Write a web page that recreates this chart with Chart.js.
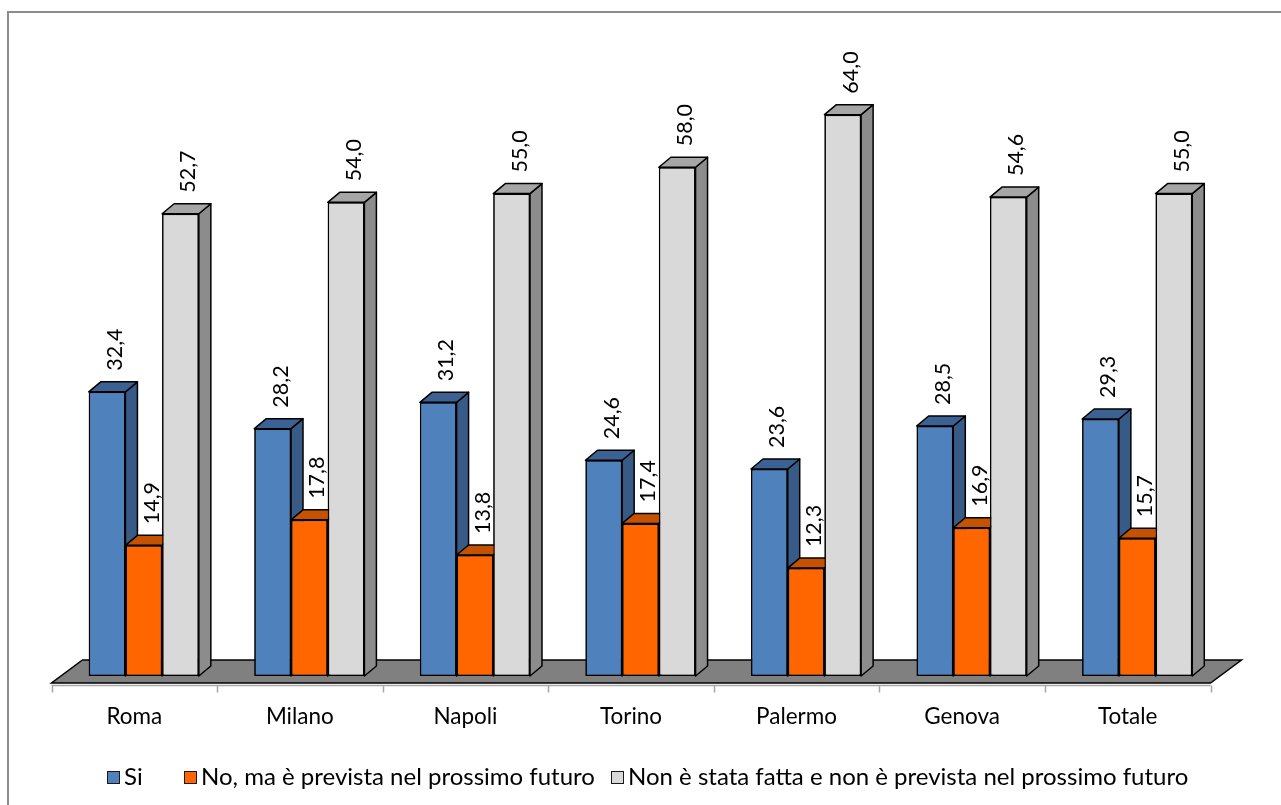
<!DOCTYPE html>
<html>
<head>
<meta charset="utf-8">
<script src="https://cdn.jsdelivr.net/npm/chart.js@4/dist/chart.umd.min.js"></script>
<style>
  html, body { margin: 0; padding: 0; background: #ffffff; }
  #wrap { width: 1281px; height: 805px; position: relative; }
</style>
</head>
<body>
<div id="wrap"><canvas id="chart" width="1281" height="805"></canvas></div>
<script>
// Categories and series
const categories = ['Roma', 'Milano', 'Napoli', 'Torino', 'Palermo', 'Genova', 'Totale'];
const seriesNames = [
  'Si',
  'No, ma è prevista nel prossimo futuro',
  'Non è stata fatta e non è prevista nel prossimo futuro'
];
const siValues = [32.4, 28.2, 31.2, 24.6, 23.6, 28.5, 29.3];
const previstaValues = [14.9, 17.8, 13.8, 17.4, 12.3, 16.9, 15.7];
const nonPrevistaValues = [52.7, 54.0, 55.0, 58.0, 64.0, 54.6, 55.0];

// Face colours: front, side, top
const faces = [
  { front: '#4f81bd', side: '#375a87', top: '#3c6293' },
  { front: '#ff6600', side: '#c04f00', top: '#c55200' },
  { front: '#d9d9d9', side: '#8c8c8c', top: '#a6a6a6' }
];

const FONT = 'Lato, "Liberation Sans", sans-serif';
const DEPTH_X = 12, DEPTH_Y = -10;         // bar depth projection
const FLOOR_FRONT = { x: -9.5, y: 7 };     // floor front edge relative to bar fronts
const FLOOR_BACK = { x: 21.5, y: -16 };    // floor back edge relative to bar fronts
const LEGEND_BOX_X = [107, 184, 611];      // legend swatch positions

const fmt = v => v.toFixed(1).replace('.', ',');

function poly(ctx, pts, fill) {
  ctx.beginPath();
  ctx.moveTo(pts[0][0], pts[0][1]);
  for (let k = 1; k < pts.length; k++) ctx.lineTo(pts[k][0], pts[k][1]);
  ctx.closePath();
  ctx.fillStyle = fill;
  ctx.fill();
  ctx.stroke();
}

const bar3d = {
  id: 'bar3d',
  beforeDraw(chart) {
    const ctx = chart.ctx;
    ctx.save();
    ctx.fillStyle = '#ffffff';
    ctx.fillRect(0, 0, chart.width, chart.height);
    ctx.restore();
  },
  beforeDatasetsDraw(chart) {
    const ctx = chart.ctx;
    const a = chart.chartArea;
    const y0 = chart.scales.y.getPixelForValue(0);
    ctx.save();
    // floor slab
    const fl = [
      [a.left + FLOOR_FRONT.x, y0 + FLOOR_FRONT.y],
      [a.right + FLOOR_FRONT.x, y0 + FLOOR_FRONT.y],
      [a.right + FLOOR_BACK.x, y0 + FLOOR_BACK.y],
      [a.left + FLOOR_BACK.x, y0 + FLOOR_BACK.y]
    ];
    ctx.lineWidth = 1.5;
    ctx.strokeStyle = '#000000';
    ctx.lineJoin = 'miter';
    poly(ctx, fl, '#808080');
    // axis line and ticks along the front edge
    const xs = chart.scales.x;
    const band = (a.right - a.left) / categories.length;
    const ay = y0 + FLOOR_FRONT.y + 2.5;
    ctx.strokeStyle = '#a6a6a6';
    ctx.lineWidth = 1.5;
    ctx.beginPath();
    ctx.moveTo(a.left + FLOOR_FRONT.x, ay);
    ctx.lineTo(a.right + FLOOR_FRONT.x, ay);
    for (let i = 0; i <= categories.length; i++) {
      const tx = Math.round(a.left + i * band + FLOOR_FRONT.x) + 0.5;
      ctx.moveTo(tx, ay);
      ctx.lineTo(tx, ay + 7);
    }
    ctx.stroke();
    // category labels
    ctx.fillStyle = '#000000';
    ctx.font = '22.5px ' + FONT;
    ctx.textAlign = 'center';
    ctx.textBaseline = 'middle';
    categories.forEach((c, i) => {
      ctx.fillText(c, xs.getPixelForValue(i) + FLOOR_FRONT.x, 717);
    });
    ctx.restore();
  },
  afterDatasetsDraw(chart) {
    const ctx = chart.ctx;
    const metas = chart.data.datasets.map((d, j) => chart.getDatasetMeta(j));
    ctx.save();
    // paint each group left to right so nearer faces cover the ones behind
    for (let i = 0; i < categories.length; i++) {
      metas.forEach((meta, j) => {
        const el = meta.data[i];
        el.draw(ctx);
        const p = el.getProps(['x', 'y', 'base', 'width'], true);
        const l = p.x - p.width / 2, r = p.x + p.width / 2;
        const t = p.y, b = p.base;
        ctx.lineWidth = 1.5;
        ctx.strokeStyle = '#000000';
        ctx.lineJoin = 'round';
        poly(ctx, [[r, t], [r + DEPTH_X, t + DEPTH_Y], [r + DEPTH_X, b + DEPTH_Y], [r, b]], faces[j].side);
        poly(ctx, [[l, t], [r, t], [r + DEPTH_X, t + DEPTH_Y], [l + DEPTH_X, t + DEPTH_Y]], faces[j].top);
      });
    }
    // value labels, rotated
    ctx.fillStyle = '#000000';
    ctx.font = '21.5px ' + FONT;
    ctx.textAlign = 'left';
    ctx.textBaseline = 'middle';
    metas.forEach((meta, j) => {
      const vals = chart.data.datasets[j].data;
      meta.data.forEach((el, i) => {
        const p = el.getProps(['x', 'y'], true);
        ctx.save();
        ctx.translate(p.x + 8, p.y + DEPTH_Y - 11);
        ctx.rotate(-Math.PI / 2);
        ctx.fillText(fmt(vals[i]), 0, 0);
        ctx.restore();
      });
    });
    ctx.restore();
  },
  afterDraw(chart) {
    const ctx = chart.ctx;
    ctx.save();
    // legend row
    ctx.font = '24px ' + FONT;
    ctx.textBaseline = 'middle';
    ctx.textAlign = 'left';
    const box = 12;
    const ly = 777;
    seriesNames.forEach((n, j) => {
      const x = LEGEND_BOX_X[j];
      ctx.fillStyle = faces[j].front;
      ctx.fillRect(x + 0.5, ly - box / 2 + 0.5, box, box);
      ctx.strokeStyle = '#1a1a1a';
      ctx.lineWidth = 1;
      ctx.strokeRect(x + 0.5, ly - box / 2 + 0.5, box, box);
      ctx.fillStyle = '#000000';
      ctx.fillText(n, x + box + 5, ly);
    });
    // outer frame
    ctx.strokeStyle = '#8c8c8c';
    ctx.lineWidth = 2;
    ctx.strokeRect(8, 12, 1300, 830);
    ctx.restore();
  }
};

new Chart(document.getElementById('chart'), {
  type: 'bar',
  data: {
    labels: categories,
    datasets: [
      { label: seriesNames[0], data: siValues, backgroundColor: faces[0].front },
      { label: seriesNames[1], data: previstaValues, backgroundColor: faces[1].front },
      { label: seriesNames[2], data: nonPrevistaValues, backgroundColor: faces[2].front }
    ].map(d => Object.assign(d, {
      borderColor: '#000000',
      borderWidth: 1.5,
      borderSkipped: false,
      categoryPercentage: 0.665,
      barPercentage: 1.0
    }))
  },
  options: {
    responsive: false,
    animation: false,
    devicePixelRatio: 1,
    layout: { padding: { left: 61, right: 61, top: 62, bottom: 129 } },
    scales: {
      x: { display: false },
      y: { display: false, min: 0, max: 70 }
    },
    plugins: {
      legend: { display: false },
      tooltip: { enabled: false }
    }
  },
  plugins: [bar3d]
});
</script>
</body>
</html>
